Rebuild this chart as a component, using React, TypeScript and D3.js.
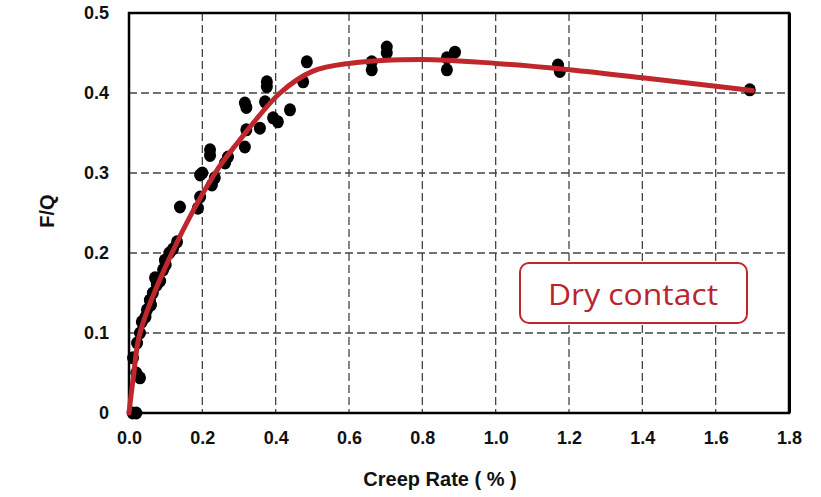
import { useEffect, useRef } from 'react'
import * as d3 from 'd3';

// Measured points (creep rate %, F/Q)
const pointsX = [0.01, 0.02, 0.03, 0.02, 0.011, 0.022, 0.03, 0.035, 0.045, 0.049, 0.057, 0.06, 0.065, 0.076, 0.071, 0.085, 0.093, 0.098, 0.1, 0.11, 0.12, 0.131, 0.139, 0.188, 0.194, 0.194, 0.2, 0.226, 0.234, 0.221, 0.221, 0.262, 0.27, 0.316, 0.32, 0.316, 0.32, 0.357, 0.371, 0.376, 0.376, 0.393, 0.406, 0.439, 0.475, 0.485, 0.662, 0.662, 0.703, 0.703, 0.867, 0.867, 0.889, 1.17, 1.175, 1.693];
const pointsY = [0.0, 0.0, 0.044, 0.05, 0.069, 0.0875, 0.1, 0.114, 0.12, 0.129, 0.141, 0.135, 0.15, 0.16, 0.169, 0.165, 0.179, 0.191, 0.185, 0.2, 0.205, 0.214, 0.2575, 0.256, 0.27, 0.2975, 0.3, 0.285, 0.294, 0.329, 0.322, 0.3125, 0.32, 0.3325, 0.354, 0.3875, 0.382, 0.356, 0.389, 0.414, 0.408, 0.369, 0.364, 0.379, 0.414, 0.439, 0.439, 0.429, 0.4575, 0.45, 0.429, 0.444, 0.451, 0.435, 0.427, 0.404];

// Fitted trend curve
const curveX = [0, 0.012, 0.03, 0.117, 0.235, 0.3, 0.412, 0.5, 0.6, 0.8, 1.0, 1.2, 1.4, 1.7];
const curveY = [0, 0.045, 0.1, 0.2, 0.3, 0.34, 0.4, 0.427, 0.437, 0.442, 0.437, 0.429, 0.419, 0.403];

const xTicks = [0, 0.2, 0.4, 0.6, 0.8, 1.0, 1.2, 1.4, 1.6, 1.8];
const yTicks = [0, 0.1, 0.2, 0.3, 0.4, 0.5];
const legendLabel = 'Dry contact';

const App = () => {

  const canvas = useRef<SVGSVGElement>(null);

  useEffect(() => {

    const left = 129, right = 789, top = 13, bottom = 413;
    const red = '#c0272d';
    const font = '"Liberation Sans", Arial, sans-serif';

    const svg = d3.select(canvas.current);
    svg.selectAll('*').remove();

    const x = d3.scaleLinear().domain([0, 1.8]).range([left, right]);
    const y = d3.scaleLinear().domain([0, 0.5]).range([bottom, top]);

    // Dashed grid
    svg.append('g')
      .selectAll('line')
      .data(xTicks.slice(1, -1))
      .join('line')
      .attr('x1', (d) => x(d)).attr('x2', (d) => x(d))
      .attr('y1', top).attr('y2', bottom)
      .attr('stroke', '#444').attr('stroke-width', 1.3)
      .attr('stroke-dasharray', '8,4');

    svg.append('g')
      .selectAll('line')
      .data(yTicks.slice(1, -1))
      .join('line')
      .attr('x1', left).attr('x2', right)
      .attr('y1', (d) => y(d)).attr('y2', (d) => y(d))
      .attr('stroke', '#444').attr('stroke-width', 1.3)
      .attr('stroke-dasharray', '8,4');

    // Frame
    svg.append('rect')
      .attr('x', left).attr('y', top)
      .attr('width', right - left).attr('height', bottom - top)
      .attr('fill', 'none').attr('stroke', '#000').attr('stroke-width', 2.5);
    svg.append('line')
      .attr('x1', right + 1).attr('x2', right + 1)
      .attr('y1', top).attr('y2', bottom)
      .attr('stroke', '#000').attr('stroke-width', 2);

    // Axes, tick labels only
    const xAxis = svg.append('g')
      .attr('transform', `translate(0, ${bottom})`)
      .call(d3.axisBottom(x).tickValues(xTicks).tickFormat(d3.format('.1f')).tickSize(0).tickPadding(18));
    const yAxis = svg.append('g')
      .attr('transform', `translate(${left}, 0)`)
      .call(d3.axisLeft(y).tickValues(yTicks).tickFormat((d) => d === 0 ? '0' : d3.format('.1f')(d)).tickSize(0).tickPadding(20));

    svg.selectAll('.domain').remove();
    [xAxis, yAxis].forEach((g) => {
      g.selectAll('text')
        .attr('font-family', font)
        .attr('font-weight', 'bold')
        .attr('font-size', 18)
        .attr('fill', '#111');
    });

    // Points
    const pts = pointsX.map((d, i) => [d, pointsY[i]]);
    svg.append('g')
      .selectAll('ellipse')
      .data(pts)
      .join('ellipse')
      .attr('cx', (d) => x(d[0]))
      .attr('cy', (d) => y(d[1]))
      .attr('rx', 6).attr('ry', 6.5)
      .attr('fill', '#000');

    // Trend curve
    const line = d3.line<number>()
      .x((d) => x(d))
      .y((d, i) => y(curveY[i]))
      .curve(d3.curveCatmullRom.alpha(0.5));
    svg.append('path')
      .attr('d', line(curveX))
      .attr('fill', 'none')
      .attr('stroke', red)
      .attr('stroke-width', 5)
      .attr('stroke-linecap', 'round');

    // Axis titles
    svg.append('text')
      .attr('x', 440).attr('y', 486)
      .attr('text-anchor', 'middle')
      .attr('font-family', font).attr('font-weight', 'bold').attr('font-size', 20)
      .attr('fill', '#111')
      .text('Creep Rate ( % )');

    svg.append('text')
      .attr('transform', 'translate(54, 211) rotate(-90)')
      .attr('text-anchor', 'middle')
      .attr('font-family', font).attr('font-weight', 'bold').attr('font-size', 20)
      .attr('fill', '#111')
      .text('F/Q');

    // Label box
    svg.append('rect')
      .attr('x', 520).attr('y', 263)
      .attr('width', 227).attr('height', 60)
      .attr('rx', 9)
      .attr('fill', '#fff')
      .attr('stroke', red).attr('stroke-width', 2);
    svg.append('text')
      .attr('x', 633).attr('y', 305)
      .attr('text-anchor', 'middle')
      .attr('font-family', '"Open Sans", "Noto Sans", sans-serif')
      .attr('font-size', 29)
      .attr('textLength', 170)
      .attr('lengthAdjust', 'spacingAndGlyphs')
      .attr('fill', '#b8252b')
      .text(legendLabel);

  }, []);

  return (
    <svg ref={canvas} width={821} height={497}
      style={{ position: 'absolute', left: 0, top: 0, background: '#fff' }} />
  );

}

export default App;
